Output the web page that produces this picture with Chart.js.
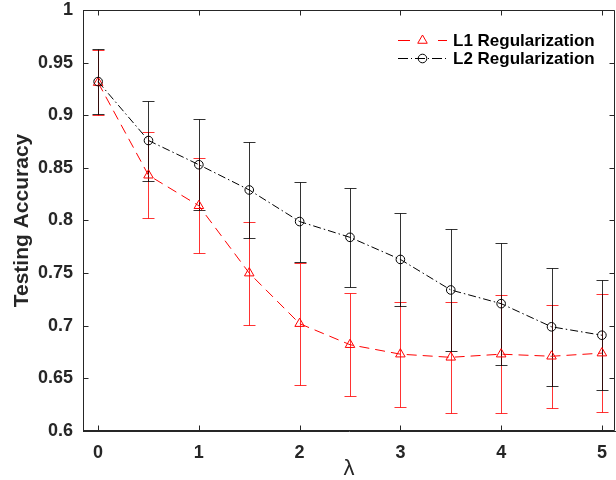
<!DOCTYPE html>
<html>
<head>
<meta charset="utf-8">
<script src="https://cdn.jsdelivr.net/npm/chart.js@4/dist/chart.umd.min.js"></script>
<style>
  body { margin: 0; background: #fff; }
  canvas { display: block; }
</style>
</head>
<body>
<canvas id="chart" width="616" height="480"></canvas>
<script>
// --- datos ---
const lambdas = [0, 0.5, 1, 1.5, 2, 2.5, 3, 3.5, 4, 4.5, 5];
const l1Acc = [0.931, 0.843, 0.814, 0.750, 0.702, 0.682, 0.673, 0.670, 0.673, 0.671, 0.674];
const l1Err = [0.031, 0.041, 0.045, 0.049, 0.058, 0.049, 0.050, 0.053, 0.056, 0.049, 0.056];
const l2Acc = [0.932, 0.876, 0.853, 0.829, 0.799, 0.784, 0.763, 0.734, 0.721, 0.699, 0.691];
const l2Err = [0.031, 0.038, 0.043, 0.046, 0.038, 0.047, 0.044, 0.058, 0.058, 0.056, 0.052];
const xTicks = [0, 1, 2, 3, 4, 5];
const yTicks = [0.6, 0.65, 0.7, 0.75, 0.8, 0.85, 0.9, 0.95, 1];
const seriesNames = ['L1 Regularization', 'L2 Regularization'];

const FONT = "'Liberation Sans', Arial, Helvetica, sans-serif";
const AXIS_COLOR = '#262626';

function toPoints(xs, ys) {
  return xs.map((x, i) => ({ x: x, y: ys[i] }));
}

// barras de error (se dibujan con las escalas del grafico)
const errorBars = {
  id: 'errorBars',
  beforeDatasetsDraw(chart) {
    const { ctx, chartArea, scales: { x, y } } = chart;
    const sets = [
      { vals: l1Acc, err: l1Err, color: 'rgba(255,0,0,0.8)' },
      { vals: l2Acc, err: l2Err, color: 'rgba(0,0,0,0.8)' }
    ];
    ctx.save();
    ctx.beginPath();
    ctx.rect(chartArea.left, chartArea.top, chartArea.right - chartArea.left, chartArea.bottom - chartArea.top);
    ctx.clip();
    ctx.lineWidth = 1;
    sets.forEach(s => {
      ctx.strokeStyle = s.color;
      lambdas.forEach((l, i) => {
        const px = Math.round(x.getPixelForValue(l)) + 0.5;
        const top = Math.round(y.getPixelForValue(s.vals[i] + s.err[i])) + 0.5;
        const bot = Math.round(y.getPixelForValue(s.vals[i] - s.err[i])) + 0.5;
        ctx.beginPath();
        ctx.moveTo(px, top); ctx.lineTo(px, bot);
        ctx.moveTo(px - 6, top); ctx.lineTo(px + 6, top);
        ctx.moveTo(px - 6, bot); ctx.lineTo(px + 6, bot);
        ctx.stroke();
      });
    });
    ctx.restore();
  }
};

// caja y marcas hacia adentro, estilo MATLAB
const boxTicks = {
  id: 'boxTicks',
  afterDraw(chart) {
    const { ctx, chartArea: a, scales: { x, y } } = chart;
    const L = a.left + 0.5, R = a.right - 0.5, T = a.top + 0.5, B = a.bottom - 0.5;
    ctx.save();
    ctx.strokeStyle = AXIS_COLOR;
    ctx.lineWidth = 1;
    ctx.beginPath();
    ctx.moveTo(L, B); ctx.lineTo(L, T); ctx.lineTo(R, T); ctx.lineTo(R, B); ctx.lineTo(L, B);
    xTicks.forEach(v => {
      const px = Math.round(x.getPixelForValue(v)) + 0.5;
      ctx.moveTo(px, B); ctx.lineTo(px, B - 5);
      ctx.moveTo(px, T); ctx.lineTo(px, T + 5);
    });
    yTicks.forEach(v => {
      const py = Math.round(y.getPixelForValue(v)) + 0.5;
      ctx.moveTo(L, py); ctx.lineTo(L + 5, py);
      ctx.moveTo(R, py); ctx.lineTo(R - 5, py);
    });
    ctx.stroke();
    ctx.restore();
  }
};

// leyenda dentro del area, arriba a la derecha
const innerLegend = {
  id: 'innerLegend',
  afterDraw(chart) {
    const { ctx } = chart;
    const rows = [
      { y: 40, color: '#ff0000', dash: [12, 28], style: 'triangle', r: 5.5 },
      { y: 58, color: '#000000', dash: [10, 3, 1, 3], style: 'circle', r: 4.3 }
    ];
    ctx.save();
    rows.forEach((row, i) => {
      ctx.strokeStyle = row.color;
      ctx.lineWidth = 1;
      ctx.setLineDash(row.dash);
      ctx.beginPath();
      ctx.moveTo(398, row.y + 0.5);
      ctx.lineTo(447, row.y + 0.5);
      ctx.stroke();
      ctx.setLineDash([]);
      ctx.fillStyle = 'rgba(0,0,0,0)';
      Chart.helpers.drawPoint(ctx, { pointStyle: row.style, radius: row.r, borderWidth: 1, rotation: 0 }, 422.5, row.y + 0.5);
      ctx.fillStyle = '#000';
      ctx.font = 'bold 17px ' + FONT;
      ctx.textAlign = 'left';
      ctx.textBaseline = 'middle';
      ctx.fillText(seriesNames[i], 453, row.y + 1);
    });
    ctx.restore();
  }
};

new Chart(document.getElementById('chart').getContext('2d'), {
  type: 'line',
  data: {
    datasets: [
      {
        label: seriesNames[0],
        data: toPoints(lambdas, l1Acc),
        borderColor: '#ff0000',
        borderWidth: 1,
        borderDash: [10, 6],
        pointStyle: 'triangle',
        pointRadius: 5.5,
        pointBorderColor: '#ff0000',
        pointBackgroundColor: 'transparent',
        pointBorderWidth: 1,
        tension: 0,
        order: 1
      },
      {
        label: seriesNames[1],
        data: toPoints(lambdas, l2Acc),
        borderColor: '#000000',
        borderWidth: 1,
        borderDash: [8, 3, 1.5, 3],
        pointStyle: 'circle',
        pointRadius: 4.3,
        pointBorderColor: '#000000',
        pointBackgroundColor: 'transparent',
        pointBorderWidth: 1,
        tension: 0,
        order: 0
      }
    ]
  },
  options: {
    responsive: false,
    animation: false,
    layout: { autoPadding: false, padding: { top: 10, right: 1, left: 0, bottom: 0 } },
    plugins: {
      legend: { display: false },
      tooltip: { enabled: false }
    },
    scales: {
      x: {
        type: 'linear',
        min: -0.15,
        max: 5.13,
        afterBuildTicks: s => { s.ticks = xTicks.map(v => ({ value: v })); },
        afterFit: s => { s.height = 49; s.paddingLeft = 0; s.paddingRight = 0; },
        grid: { display: false, drawTicks: false },
        border: { display: true, color: AXIS_COLOR, width: 1 },
        ticks: {
          padding: 11,
          color: AXIS_COLOR,
          font: { family: FONT, size: 18, weight: 'bold' },
          maxRotation: 0
        },
        title: {
          display: true,
          text: 'λ',
          color: AXIS_COLOR,
          padding: { top: 0, bottom: 0 },
          font: { family: FONT, size: 22, lineHeight: 1 }
        }
      },
      y: {
        min: 0.6,
        max: 1,
        afterBuildTicks: s => { s.ticks = yTicks.map(v => ({ value: v })); },
        afterFit: s => { s.width = 83; s.paddingTop = 0; s.paddingBottom = 0; },
        grid: { display: false, drawTicks: false },
        border: { display: true, color: AXIS_COLOR, width: 1 },
        ticks: {
          padding: 10,
          color: AXIS_COLOR,
          font: { family: FONT, size: 18, weight: 'bold' },
          callback: v => String(Math.round(v * 100) / 100)
        },
        title: {
          display: true,
          text: 'Testing Accuracy',
          color: AXIS_COLOR,
          padding: { top: 12, bottom: 0 },
          font: { family: FONT, size: 21, weight: 'bold', lineHeight: 1 }
        }
      }
    }
  },
  plugins: [errorBars, boxTicks, innerLegend]
});
</script>
</body>
</html>
